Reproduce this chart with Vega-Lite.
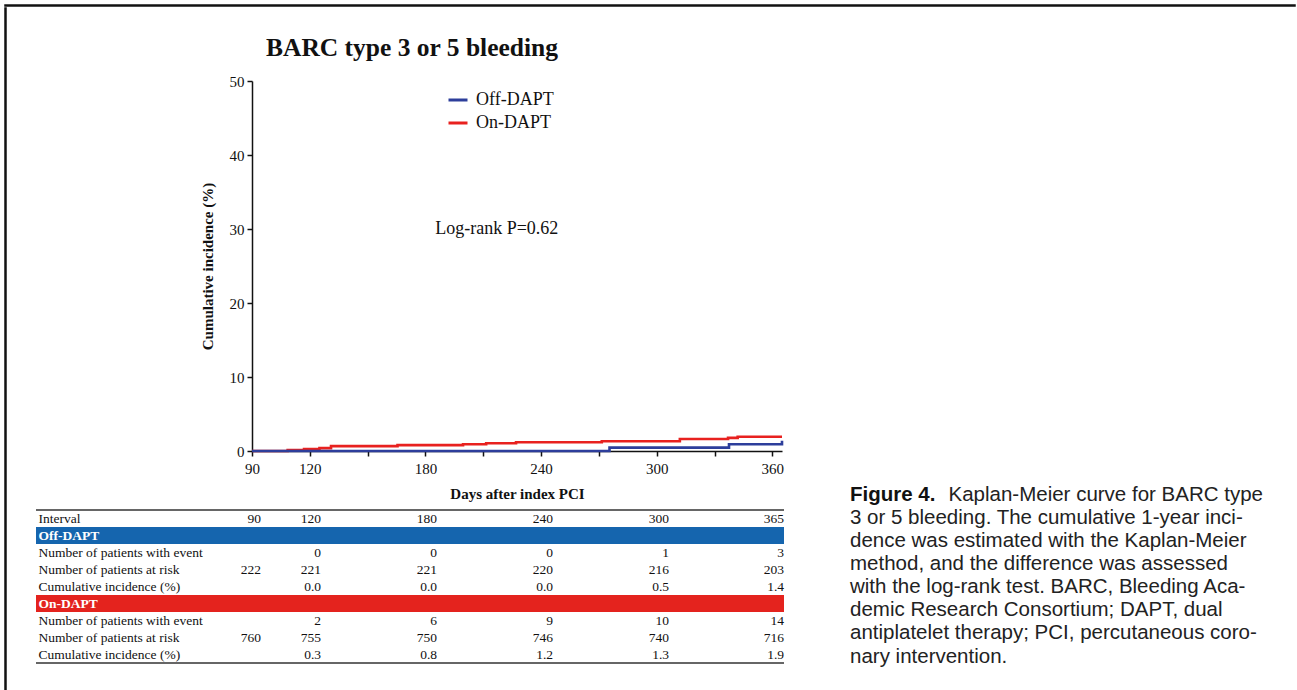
{
  "$schema": "https://vega.github.io/schema/vega-lite/v6.json",
  "background": "white",
  "padding": {"left": 4, "top": 4, "right": 2, "bottom": 0},
  "spacing": 0,
  "resolve": {"scale": {"color": "independent", "fill": "independent"}},
  "config": {"view": {"stroke": null}, "font": "Liberation Serif"},
  "vconcat": [
    {"width": 1290, "height": 1, "data": {"values": []}, "mark": "text", "view": {"stroke": "#111", "strokeWidth": 1.5}},
    {
      "spacing": 28,
      "resolve": {"scale": {"color": "independent", "fill": "independent"}},
      "hconcat": [
        {"width": 1, "height": 700, "data": {"values": []}, "mark": "text", "view": {"stroke": "#111", "strokeWidth": 1.5}},
        {
          "bounds": "flush",
          "spacing": 59,
          "resolve": {"scale": {"color": "independent", "fill": "independent"}},
          "vconcat": [
            {"width": 748, "height": 14, "data": {"values": []}, "mark": "text"},
            {
              "width": 748,
              "height": 370,
              "title": {"text": "BARC type 3 or 5 bleeding", "anchor": "middle", "frame": "group", "dx": 2, "offset": 13, "font": "Liberation Serif", "fontSize": 25.5, "fontWeight": "bold", "color": "#111"},
              "layer": [
                {
                  "data": {"values": [
                    {"group": "On-DAPT", "day": 90, "ci": 0},
                    {"group": "On-DAPT", "day": 108.5, "ci": 0.13},
                    {"group": "On-DAPT", "day": 117, "ci": 0.26},
                    {"group": "On-DAPT", "day": 125, "ci": 0.39},
                    {"group": "On-DAPT", "day": 131, "ci": 0.66},
                    {"group": "On-DAPT", "day": 165.5, "ci": 0.79},
                    {"group": "On-DAPT", "day": 199.5, "ci": 0.92},
                    {"group": "On-DAPT", "day": 211.5, "ci": 1.05},
                    {"group": "On-DAPT", "day": 227, "ci": 1.18},
                    {"group": "On-DAPT", "day": 271.5, "ci": 1.32},
                    {"group": "On-DAPT", "day": 312, "ci": 1.62},
                    {"group": "On-DAPT", "day": 337, "ci": 1.78},
                    {"group": "On-DAPT", "day": 342, "ci": 1.93},
                    {"group": "On-DAPT", "day": 365, "ci": 1.93},
                    {"group": "Off-DAPT", "day": 90, "ci": 0},
                    {"group": "Off-DAPT", "day": 275.5, "ci": 0.45},
                    {"group": "Off-DAPT", "day": 337.5, "ci": 0.92},
                    {"group": "Off-DAPT", "day": 365, "ci": 1.4}
                  ]},
                  "mark": {"type": "line", "interpolate": "step-after", "strokeWidth": 2.6},
                  "encoding": {
                    "x": {
                      "field": "day", "type": "quantitative",
                      "scale": {"domain": [90, 365], "range": [216, 746], "nice": false, "zero": false},
                      "axis": {
                        "title": "Days after index PCI",
                        "values": [90, 120, 150, 180, 210, 240, 270, 300, 330, 360],
                        "labelExpr": "indexof([150, 210, 270, 330], datum.value) >= 0 ? '' : datum.label",
                        "grid": false, "tickSize": 5, "tickColor": "#111", "tickWidth": 1.5,
                        "domainColor": "#111", "domainWidth": 1.5,
                        "labelFont": "Liberation Serif", "labelFontSize": 15, "labelColor": "#111",
                        "labelPadding": 5, "labelFlush": false, "labelOverlap": false,
                        "titleFont": "Liberation Serif", "titleFontSize": 15, "titleFontWeight": "bold",
                        "titleColor": "#111", "titlePadding": 10
                      }
                    },
                    "y": {
                      "field": "ci", "type": "quantitative",
                      "scale": {"domain": [0, 50], "nice": false},
                      "axis": {
                        "title": "Cumulative incidence (%)",
                        "values": [0, 10, 20, 30, 40, 50],
                        "offset": -216,
                        "grid": false, "tickSize": 5, "tickColor": "#111", "tickWidth": 1.5,
                        "domainColor": "#111", "domainWidth": 1.5,
                        "labelFont": "Liberation Serif", "labelFontSize": 15, "labelColor": "#111",
                        "labelPadding": 3, "labelFlush": false,
                        "titleFont": "Liberation Serif", "titleFontSize": 15, "titleFontWeight": "bold",
                        "titleColor": "#111", "titlePadding": 14
                      }
                    },
                    "color": {
                      "field": "group", "type": "nominal",
                      "scale": {"domain": ["Off-DAPT", "On-DAPT"], "range": ["#2d3e9b", "#e8211f"]},
                      "legend": {
                        "orient": "none", "legendX": 411, "legendY": 8, "title": null,
                        "symbolType": "stroke", "symbolSize": 361, "symbolStrokeWidth": 3,
                        "labelFont": "Liberation Serif", "labelFontSize": 18, "labelColor": "#111",
                        "labelOffset": 7, "rowPadding": 3, "padding": 0
                      }
                    }
                  }
                },
                {
                  "data": {"values": [{"label": "Log-rank P=0.62"}]},
                  "mark": {"type": "text", "font": "Liberation Serif", "fontSize": 18, "color": "#111", "align": "center", "baseline": "middle"},
                  "encoding": {
                    "x": {"datum": 217, "type": "quantitative"},
                    "y": {"datum": 30, "type": "quantitative"},
                    "text": {"field": "label"}
                  }
                }
              ]
            },
            {
              "width": 748,
              "height": 153,
              "layer": [
                {
                  "data": {"values": [
                    {"row": "2 Off-DAPT", "grp": "Off-DAPT"},
                    {"row": "6 On-DAPT", "grp": "On-DAPT"}
                  ]},
                  "mark": {"type": "rect"},
                  "encoding": {
                    "y": {
                      "field": "row", "type": "nominal",
                      "scale": {"domain": ["1 Interval", "2 Off-DAPT", "3 Number of patients with event", "4 Number of patients at risk", "5 Cumulative incidence (%)", "6 On-DAPT", "7 Number of patients with event", "8 Number of patients at risk", "9 Cumulative incidence (%)"], "paddingInner": 0, "paddingOuter": 0},
                      "axis": {
                        "title": null, "domain": false, "ticks": false, "tickSize": 0, "grid": false,
                        "labelAlign": "left", "labelPadding": -2, "labelExpr": "slice(datum.value, 2)",
                        "labelFont": "Liberation Serif", "labelFontSize": 13.5, "labelLimit": 400,
                        "labelColor": {"condition": {"test": "datum.value == '2 Off-DAPT' || datum.value == '6 On-DAPT'", "value": "white"}, "value": "#111"},
                        "labelFontWeight": {"condition": {"test": "datum.value == '2 Off-DAPT' || datum.value == '6 On-DAPT'", "value": "bold"}, "value": "normal"},
                        "zindex": 1
                      }
                    },
                    "fill": {"field": "grp", "type": "nominal", "scale": {"domain": ["Off-DAPT", "On-DAPT"], "range": ["#1565ae", "#e4231e"]}, "legend": null}
                  }
                },
                {
                  "data": {"values": [{"row": "1 Interval"}]},
                  "mark": {"type": "rule", "color": "#333", "strokeWidth": 1.5},
                  "encoding": {"y": {"field": "row", "type": "nominal", "bandPosition": 0}}
                },
                {
                  "data": {"values": [{"row": "9 Cumulative incidence (%)"}]},
                  "mark": {"type": "rule", "color": "#333", "strokeWidth": 1.5},
                  "encoding": {"y": {"field": "row", "type": "nominal", "bandPosition": 1}}
                },
                {
                  "data": {"values": [
                    {"row": "1 Interval", "col": 90, "val": "90"},
                    {"row": "1 Interval", "col": 120, "val": "120"},
                    {"row": "1 Interval", "col": 180, "val": "180"},
                    {"row": "1 Interval", "col": 240, "val": "240"},
                    {"row": "1 Interval", "col": 300, "val": "300"},
                    {"row": "1 Interval", "col": 365, "val": "365"},
                    {"row": "3 Number of patients with event", "col": 120, "val": "0"},
                    {"row": "3 Number of patients with event", "col": 180, "val": "0"},
                    {"row": "3 Number of patients with event", "col": 240, "val": "0"},
                    {"row": "3 Number of patients with event", "col": 300, "val": "1"},
                    {"row": "3 Number of patients with event", "col": 365, "val": "3"},
                    {"row": "4 Number of patients at risk", "col": 90, "val": "222"},
                    {"row": "4 Number of patients at risk", "col": 120, "val": "221"},
                    {"row": "4 Number of patients at risk", "col": 180, "val": "221"},
                    {"row": "4 Number of patients at risk", "col": 240, "val": "220"},
                    {"row": "4 Number of patients at risk", "col": 300, "val": "216"},
                    {"row": "4 Number of patients at risk", "col": 365, "val": "203"},
                    {"row": "5 Cumulative incidence (%)", "col": 120, "val": "0.0"},
                    {"row": "5 Cumulative incidence (%)", "col": 180, "val": "0.0"},
                    {"row": "5 Cumulative incidence (%)", "col": 240, "val": "0.0"},
                    {"row": "5 Cumulative incidence (%)", "col": 300, "val": "0.5"},
                    {"row": "5 Cumulative incidence (%)", "col": 365, "val": "1.4"},
                    {"row": "7 Number of patients with event", "col": 120, "val": "2"},
                    {"row": "7 Number of patients with event", "col": 180, "val": "6"},
                    {"row": "7 Number of patients with event", "col": 240, "val": "9"},
                    {"row": "7 Number of patients with event", "col": 300, "val": "10"},
                    {"row": "7 Number of patients with event", "col": 365, "val": "14"},
                    {"row": "8 Number of patients at risk", "col": 90, "val": "760"},
                    {"row": "8 Number of patients at risk", "col": 120, "val": "755"},
                    {"row": "8 Number of patients at risk", "col": 180, "val": "750"},
                    {"row": "8 Number of patients at risk", "col": 240, "val": "746"},
                    {"row": "8 Number of patients at risk", "col": 300, "val": "740"},
                    {"row": "8 Number of patients at risk", "col": 365, "val": "716"},
                    {"row": "9 Cumulative incidence (%)", "col": 120, "val": "0.3"},
                    {"row": "9 Cumulative incidence (%)", "col": 180, "val": "0.8"},
                    {"row": "9 Cumulative incidence (%)", "col": 240, "val": "1.2"},
                    {"row": "9 Cumulative incidence (%)", "col": 300, "val": "1.3"},
                    {"row": "9 Cumulative incidence (%)", "col": 365, "val": "1.9"}
                  ]},
                  "mark": {"type": "text", "align": "right", "baseline": "middle", "font": "Liberation Serif", "fontSize": 13.5, "color": "#111"},
                  "encoding": {
                    "x": {"field": "col", "type": "quantitative", "scale": {"domain": [90, 120, 300, 365], "range": [225, 285, 633, 748]}, "axis": null},
                    "y": {"field": "row", "type": "nominal"},
                    "text": {"field": "val"}
                  }
                }
              ]
            }
          ]
        },
        {
          "bounds": "flush",
          "spacing": 0,
          "vconcat": [
            {"width": 455, "height": 487, "data": {"values": []}, "mark": "text"},
            {
              "width": 455,
              "height": 161.5,
              "data": {"values": [
                {"line": 1, "part": "label", "text": "Figure 4."},
                {"line": 1, "part": "end", "text": "Kaplan-Meier curve for BARC type"},
                {"line": 2, "part": "start", "text": "3 or 5 bleeding. The cumulative 1-year inci-"},
                {"line": 3, "part": "start", "text": "dence was estimated with the Kaplan-Meier"},
                {"line": 4, "part": "start", "text": "method, and the difference was assessed"},
                {"line": 5, "part": "start", "text": "with the log-rank test. BARC, Bleeding Aca-"},
                {"line": 6, "part": "start", "text": "demic Research Consortium; DAPT, dual"},
                {"line": 7, "part": "start", "text": "antiplatelet therapy; PCI, percutaneous coro-"},
                {"line": 8, "part": "start", "text": "nary intervention."}
              ]},
              "encoding": {
                "y": {"field": "line", "type": "quantitative", "scale": {"domain": [1, 8], "reverse": true, "nice": false, "zero": false}, "axis": null},
                "text": {"field": "text"}
              },
              "layer": [
                {
                  "transform": [{"filter": "datum.part == 'start'"}],
                  "mark": {"type": "text", "align": "left", "baseline": "middle", "font": "Liberation Sans", "fontSize": 20.5, "color": "#222"},
                  "encoding": {"x": {"datum": 0, "type": "quantitative", "scale": {"domain": [0, 1], "range": [34, 447]}, "axis": null}}
                },
                {
                  "transform": [{"filter": "datum.part == 'label'"}],
                  "mark": {"type": "text", "align": "left", "baseline": "middle", "font": "Liberation Sans", "fontSize": 20.5, "fontWeight": "bold", "color": "#111"},
                  "encoding": {"x": {"datum": 0, "type": "quantitative"}}
                },
                {
                  "transform": [{"filter": "datum.part == 'end'"}],
                  "mark": {"type": "text", "align": "right", "baseline": "middle", "font": "Liberation Sans", "fontSize": 20.5, "color": "#222"},
                  "encoding": {"x": {"datum": 1, "type": "quantitative"}}
                }
              ]
            }
          ]
        },
        {"width": 1, "height": 700, "data": {"values": []}, "mark": "text", "view": {"stroke": "#111", "strokeWidth": 1.5}}
      ]
    }
  ]
}
